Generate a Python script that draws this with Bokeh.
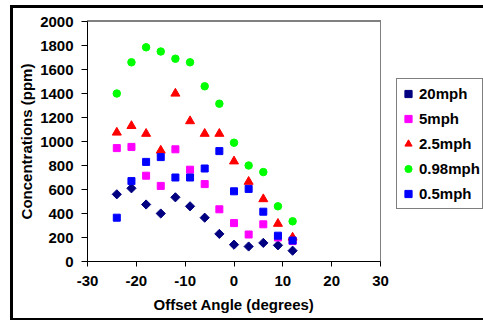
from bokeh.plotting import figure
from bokeh.models import (Range1d, FixedTicker, Legend, LegendItem,
                          InlineStyleSheet)
from bokeh.embed import file_html
from bokeh.resources import INLINE
import numpy as np

# ---- data ----
angles = [-24, -21, -18, -15, -12, -9, -6, -3, 0, 3, 6, 9, 12]
mph20 = [560, 610, 475, 400, 535, 460, 365, 230, 140, 125, 155, 135, 90]
mph5 = [945, 955, 715, 630, 935, 765, 645, 435, 320, 225, 310, 200, 170]
mph2_5 = [1075, 1130, 1065, 925, 1400, 1170, 1065, 1065, 835, 665, 520, 315, 200]
mph0_98 = [1400, 1660, 1785, 1750, 1690, 1660, 1460, 1315, 990, 800, 745, 460, 335]
mph0_5 = [365, 670, 830, 870, 700, 700, 775, 920, 585, 605, 415, 215, 175]

series_names = ["20mph", "5mph", "2.5mph", "0.98mph", "0.5mph"]
x_ticks = [-30, -20, -10, 0, 10, 20, 30]
y_ticks = [0, 200, 400, 600, 800, 1000, 1200, 1400, 1600, 1800, 2000]
x_min, x_max = -30, 30
y_min, y_max = 0, 2000

FONT = "Liberation Sans"

p = figure(frame_width=293, frame_height=240, output_backend="svg", toolbar_location=None,
           x_range=Range1d(x_min, x_max), y_range=Range1d(y_min, y_max),
           min_border_left=87, min_border_right=103, min_border_top=21, min_border_bottom=59)
p.background_fill_color = "white"
p.border_fill_color = "white"
p.outline_line_color = "#808080"
p.outline_line_width = 1
p.outline_line_alpha = 1
p.grid.visible = False

for ax in (p.xaxis[0], p.yaxis[0]):
    ax.axis_line_color = "black"
    ax.major_tick_line_color = "black"
    ax.major_tick_in = 0
    ax.major_tick_out = 5
    ax.minor_tick_line_color = None
    ax.major_label_text_font = FONT
    ax.major_label_text_font_style = "bold"
    ax.major_label_text_font_size = "15px"
    ax.major_label_text_color = "black"
    ax.axis_label_text_font = FONT
    ax.axis_label_text_font_style = "bold"
    ax.axis_label_text_font_size = "15px"
    ax.axis_label_text_color = "black"

p.xaxis.ticker = FixedTicker(ticks=x_ticks)
p.yaxis.ticker = FixedTicker(ticks=y_ticks)
p.xaxis.major_label_overrides = {t: str(t) for t in x_ticks}
p.yaxis.major_tick_out = 6
p.xaxis.axis_label = "Offset Angle (degrees)"
p.yaxis.axis_label = "Concentrations (ppm)"
p.xaxis.major_label_standoff = 9
p.yaxis.major_label_standoff = 8
p.xaxis.axis_label_standoff = 7
p.yaxis.axis_label_standoff = 2

r1 = p.scatter(angles, mph20, marker="square", angle=np.pi / 4, size=6.5,
               fill_color="#000080", line_color="#000080")
r2 = p.scatter(angles, mph5, marker="square", size=7,
               fill_color="#FF00FF", line_color="#FF00FF")
r3 = p.scatter(angles, mph2_5, marker="triangle", size=9,
               fill_color="#FF0000", line_color="#FF0000")
r4 = p.scatter(angles, mph0_98, marker="circle", size=7.5,
               fill_color="#00FF00", line_color="#00FF00")
r5 = p.scatter(angles, mph0_5, marker="square", size=7,
               fill_color="#0000FF", line_color="#0000FF")

items = [LegendItem(label=n, renderers=[r]) for n, r in zip(series_names, [r1, r2, r3, r4, r5])]
legend = Legend(items=items, location=(16, 52), margin=0)
legend.label_text_font = FONT
legend.label_text_font_style = "bold"
legend.label_text_font_size = "15px"
legend.label_text_color = "black"
legend.glyph_width = 18
legend.glyph_height = 25
legend.label_height = 25
legend.spacing = 0
legend.padding = 2
legend.label_standoff = 2
legend.border_line_color = "black"
legend.border_line_width = 1
legend.background_fill_color = "white"
legend.background_fill_alpha = 1
p.add_layout(legend, "right")

# chart-area border (black, thick) plus gray top/right plot-area edges
p.stylesheets = [InlineStyleSheet(css="""
:host::after {
  content: '';
  position: absolute;
  z-index: 5;
  left: 10px; top: 5px; width: 473px; height: 315px;
  box-sizing: border-box;
  border-left: 3px solid black; border-top: 3px solid black;
  border-bottom: 2px solid black; border-right: none;
  background-image: linear-gradient(#808080, #808080), linear-gradient(#808080, #808080);
  background-repeat: no-repeat;
  background-origin: padding-box;
  background-position: 74px 12px, 367px 12px;
  background-size: 294px 1px, 1px 241px;
  pointer-events: none;
}
""")]

open("out.html", "w").write(file_html(p, INLINE))
